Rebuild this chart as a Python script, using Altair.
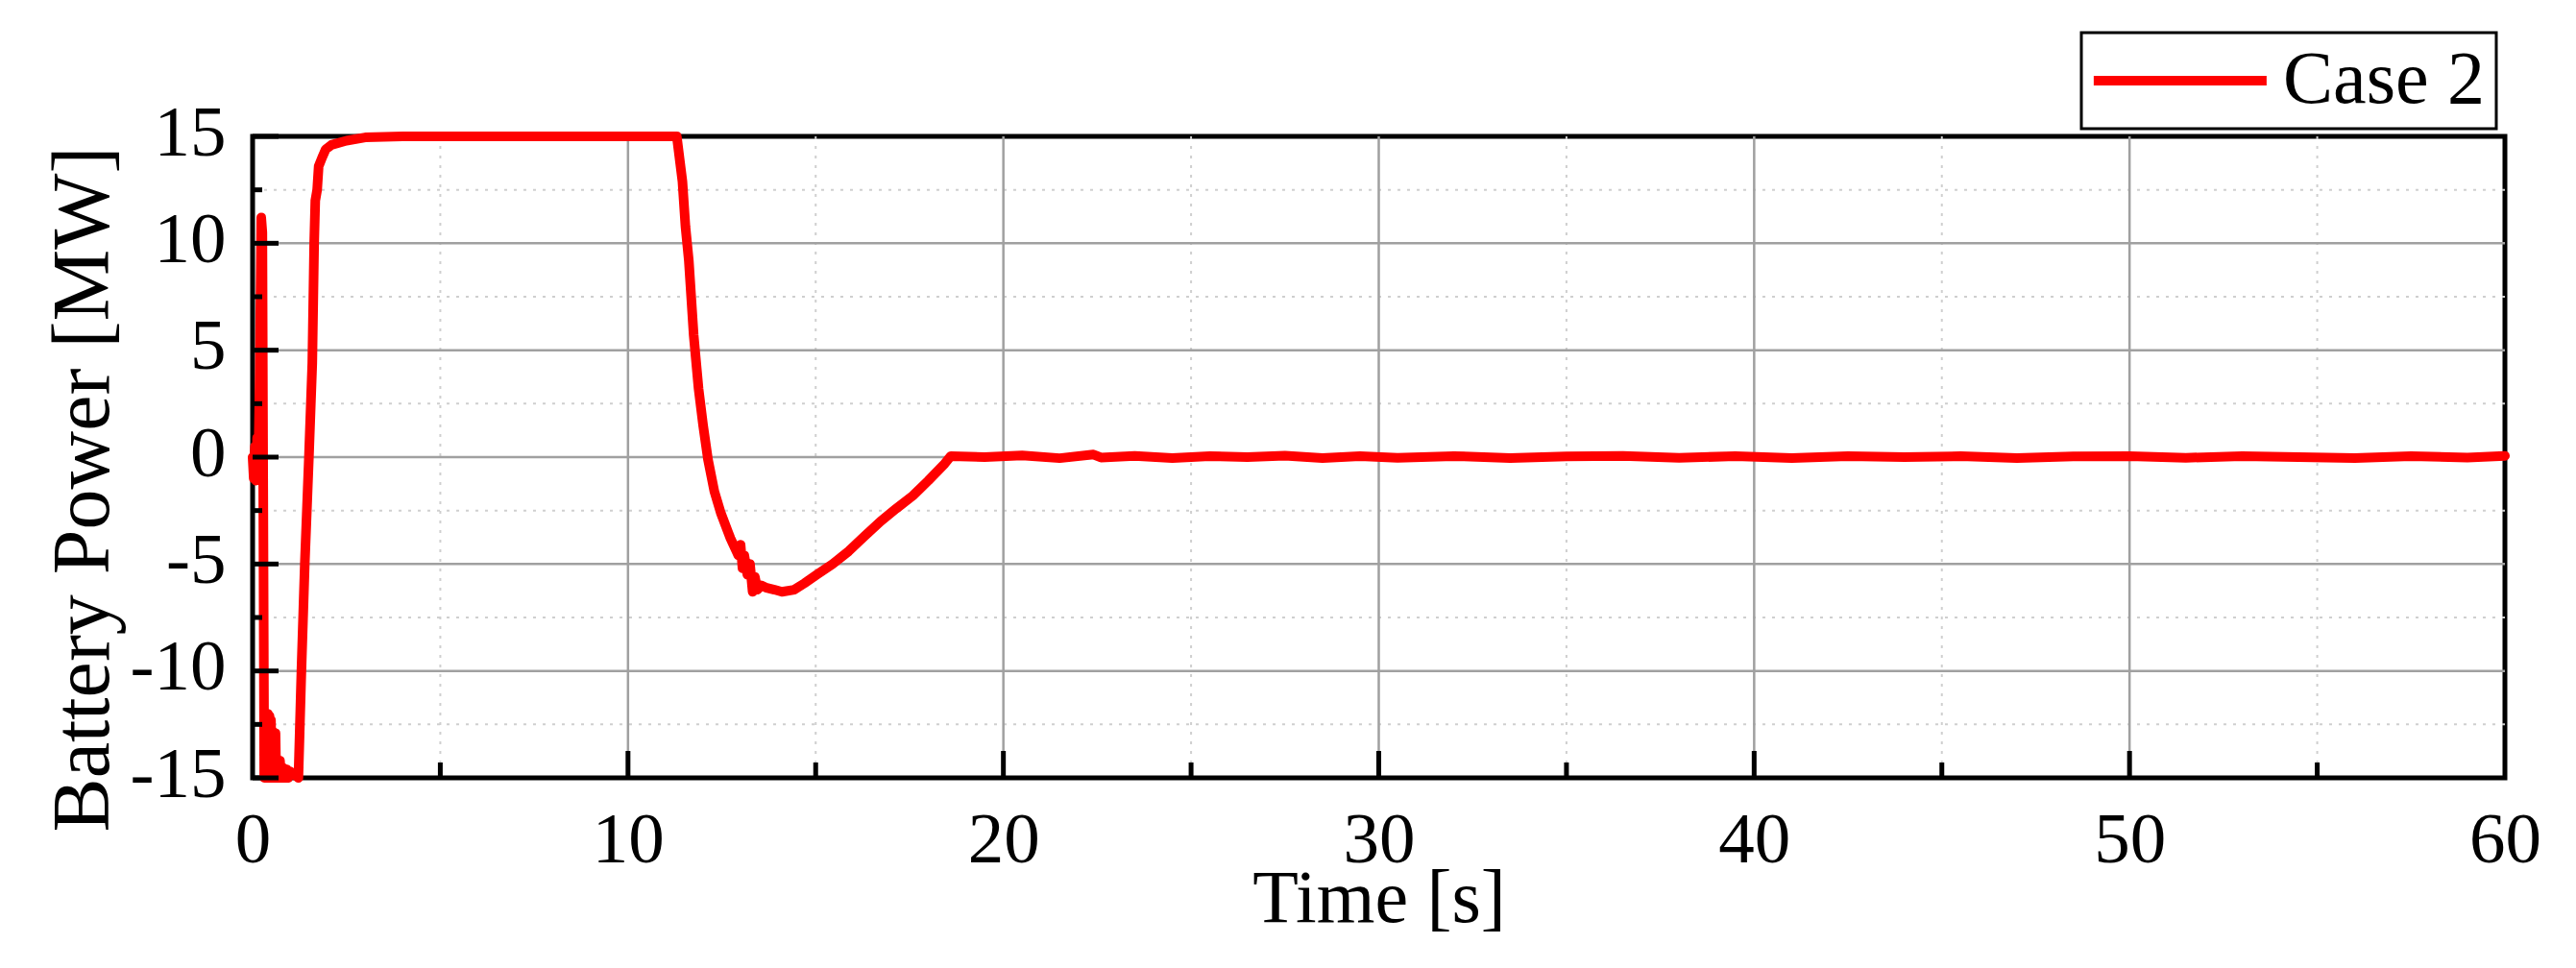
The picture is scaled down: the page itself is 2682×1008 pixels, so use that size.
import altair as alt
import pandas as pd

# ---- data ----
time_s = [0.00, 0.03, 0.06, 0.09, 0.12, 0.15, 0.19, 0.23, 0.26, 0.31,
          0.33, 0.35, 0.37, 0.39, 0.41, 0.43, 0.45, 0.47, 0.49, 0.51,
          0.53, 0.55, 0.57, 0.59, 0.61, 0.63, 0.65, 0.67, 0.69, 0.71,
          0.73, 0.76, 0.79, 0.82, 0.85, 0.88, 0.91, 0.95, 1.00, 1.08,
          1.16, 1.22, 1.30, 1.39, 1.50, 1.59, 1.64, 1.67, 1.72, 1.76,
          1.85, 1.95, 2.10, 2.50, 3.00, 4.00, 11.30, 11.45, 11.53, 11.62,
          11.75, 11.88, 12.00, 12.13, 12.30, 12.47, 12.73, 12.94, 13.00, 13.05,
          13.10, 13.18, 13.25, 13.32, 13.38, 13.45, 13.55, 13.67, 13.90, 14.10,
          14.43, 14.70, 15.03, 15.45, 15.88, 16.30, 16.73, 17.15, 17.59, 18.00,
          18.44, 18.60, 19.50, 20.50, 21.50, 22.40, 22.60, 23.50, 24.50, 25.50,
          26.50, 27.50, 28.50, 29.50, 30.50, 32.00, 33.50, 35.00, 36.50, 38.00,
          39.50, 41.00, 42.50, 44.00, 45.50, 47.00, 48.50, 50.00, 51.50, 53.00,
          54.50, 56.00, 57.50, 59.00, 60.00]
power_mw = [0.0, -1.0, 0.5, -1.1, 0.9, -0.8, 4.0, 11.2, 10.5, -15.0,
            -12.1, -15.0, -12.2, -15.0, -12.0, -15.0, -12.1, -15.0, -12.3, -15.0,
            -12.8, -15.0, -12.9, -15.0, -12.9, -15.0, -14.1, -15.0, -14.2, -15.0,
            -14.2, -15.0, -14.5, -15.0, -14.6, -15.0, -14.6, -15.0, -14.7, -14.8,
            -14.9, -15.0, -10.0, -5.0, 0.0, 4.4, 10.0, 12.0, 12.5, 13.6,
            14.0, 14.4, 14.6, 14.8, 14.95, 15.0, 15.0, 12.9, 10.8, 9.2,
            5.7, 3.2, 1.5, -0.1, -1.6, -2.6, -3.8, -4.6, -4.1, -5.2,
            -4.6, -5.5, -5.0, -6.3, -5.6, -6.2, -6.0, -6.1, -6.2, -6.3,
            -6.2, -5.9, -5.5, -5.0, -4.4, -3.7, -3.0, -2.4, -1.8, -1.1,
            -0.3, 0.05, 0.0, 0.08, -0.05, 0.12, -0.02, 0.06, -0.04, 0.05,
            0.0, 0.07, -0.05, 0.04, -0.03, 0.05, -0.04, 0.03, 0.06, -0.03,
            0.04, -0.05, 0.05, 0.0, 0.04, -0.04, 0.03, 0.05, -0.03, 0.04,
            0.0, -0.04, 0.05, -0.02, 0.06]
series_name = "Case 2"

x_labels = [0, 10, 20, 30, 40, 50, 60]
y_labels = [-15, -10, -5, 0, 5, 10, 15]
x_major_grid = [10, 20, 30, 40, 50]
x_minor_grid = [5, 15, 25, 35, 45, 55]
y_major_grid = [-10, -5, 0, 5, 10]
y_minor_grid = [-12.5, -7.5, -2.5, 2.5, 7.5, 12.5]

W, H = 2345, 668
FONT = "Liberation Serif"

df = pd.DataFrame({"t": time_s, "p": power_mw, "s": [series_name] * len(time_s)})

xs = alt.Scale(domain=[0, 60], nice=False, zero=False)
ys = alt.Scale(domain=[-15, 15], nice=False, zero=False)

x_axis = alt.Axis(
    values=x_labels, title="Time [s]", domain=False, ticks=False, grid=False,
    labelFont=FONT, labelFontSize=75, labelColor="black", labelPadding=87,
    labelBaseline="alphabetic", labelFlush=False, labelOverlap=False,
    titleFont=FONT, titleFontSize=78, titleFontWeight="normal", titleColor="black",
    titleBaseline="alphabetic", titleX=W / 2, titleY=149, titleAlign="center",
)
y_axis = alt.Axis(
    values=y_labels, title="Battery Power [MW]", domain=False, ticks=False, grid=False,
    labelExpr="'' + datum.value",
    labelFont=FONT, labelFontSize=75, labelColor="black", labelPadding=28,
    labelBaseline="alphabetic", labelOffset=19, labelFlush=False, labelOverlap=False,
    titleFont=FONT, titleFontSize=84, titleFontWeight="normal", titleColor="black",
    titleBaseline="alphabetic", titleX=-151, titleY=367, titleAlign="center", titleAngle=270,
)

MAJOR = "#a0a0a0"
MINOR = "#cfcfcf"


def vrules(vals, color, dash, width):
    return alt.Chart(pd.DataFrame({"v": vals})).mark_rule(
        color=color, strokeDash=dash, strokeWidth=width
    ).encode(x=alt.X("v:Q", scale=xs, axis=x_axis))


def hrules(vals, color, dash, width):
    return alt.Chart(pd.DataFrame({"v": vals})).mark_rule(
        color=color, strokeDash=dash, strokeWidth=width
    ).encode(y=alt.Y("v:Q", scale=ys, axis=y_axis))


g1 = vrules(x_minor_grid, MINOR, [3, 7], 2)
g2 = hrules(y_minor_grid, MINOR, [3, 7], 2)
g3 = vrules(x_major_grid, MAJOR, [1, 0], 2.5)
g4 = hrules(y_major_grid, MAJOR, [1, 0], 2.5)

line = alt.Chart(df).mark_line(strokeWidth=10, strokeJoin="round", strokeCap="round").encode(
    x=alt.X("t:Q", scale=xs, axis=x_axis),
    y=alt.Y("p:Q", scale=ys, axis=y_axis),
    color=alt.Color("s:N", scale=alt.Scale(range=["#ff0000"]), legend=alt.Legend(
        title=None, orient="none", legendX=1904, legendY=-108,
        symbolType="M-1.65,0H6.35", symbolSize=2025, symbolStrokeWidth=10,
        labelFont=FONT, labelFontSize=78, labelColor="black", labelOffset=121,
        labelLimit=600, strokeColor="black", padding=11,
    )),
)

# inward tick marks on the left and bottom edges
tk_y_major = alt.Chart(pd.DataFrame({"v": y_labels})).mark_rule(color="black", strokeWidth=5).encode(
    y=alt.Y("v:Q", scale=ys, axis=y_axis), x=alt.value(0), x2=alt.value(27))
tk_y_minor = alt.Chart(pd.DataFrame({"v": y_minor_grid})).mark_rule(color="black", strokeWidth=5).encode(
    y=alt.Y("v:Q", scale=ys, axis=y_axis), x=alt.value(0), x2=alt.value(10))
tk_x_major = alt.Chart(pd.DataFrame({"v": x_major_grid})).mark_rule(color="black", strokeWidth=5).encode(
    x=alt.X("v:Q", scale=xs, axis=x_axis), y=alt.value(H), y2=alt.value(H - 28))
tk_x_minor = alt.Chart(pd.DataFrame({"v": x_minor_grid})).mark_rule(color="black", strokeWidth=5).encode(
    x=alt.X("v:Q", scale=xs, axis=x_axis), y=alt.value(H), y2=alt.value(H - 16))

chart = alt.layer(g1, g2, g3, g4, line, tk_y_major, tk_y_minor, tk_x_major, tk_x_minor).properties(
    width=W, height=H,
    autosize=alt.AutoSizeParams(type="none"),
    padding={"left": 255, "top": 134, "right": 66, "bottom": 190},
    background="white",
).configure_view(stroke="black", strokeWidth=5).configure_legend(strokeWidth=3)

chart.save("out.html", embed_options={"renderer": "svg", "actions": False})
